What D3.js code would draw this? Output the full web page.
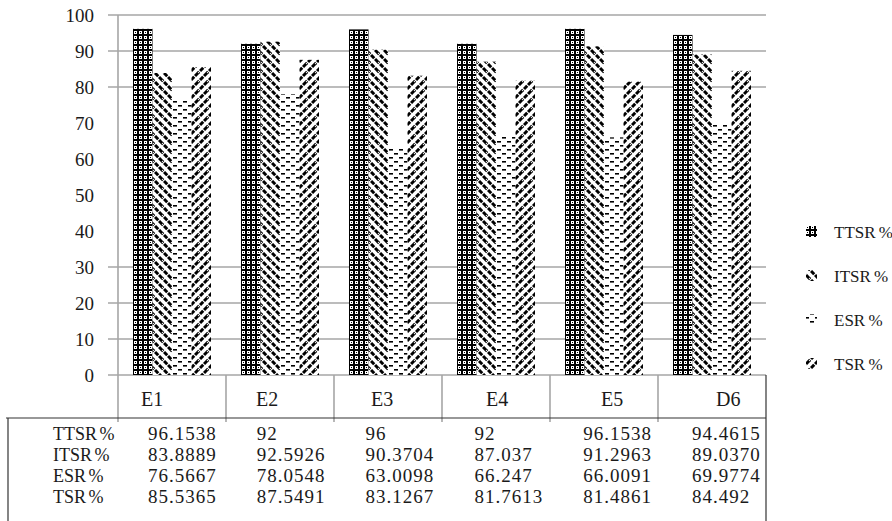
<!DOCTYPE html>
<html>
<head>
<meta charset="utf-8">
<script src="https://cdn.jsdelivr.net/npm/d3@7/dist/d3.min.js"></script>
<style>
  html, body { margin: 0; padding: 0; background: #fff; }
  svg { display: block; font-family: "Liberation Serif", "Times New Roman", serif; }
</style>
</head>
<body>
<svg id="chart" width="892" height="521"></svg>
<script>
// Test groups and the four rate series (percent)
const categories = ["E1", "E2", "E3", "E4", "E5", "D6"];
const seriesNames = ["TTSR %", "ITSR %", "ESR %", "TSR %"];
const ttsr = [96.1538, 92, 96, 92, 96.1538, 94.4615];
const itsr = [83.8889, 92.5926, 90.3704, 87.037, 91.2963, 89.0370];
const esr  = [76.5667, 78.0548, 63.0098, 66.247, 66.0091, 69.9774];
const tsr  = [85.5365, 87.5491, 83.1267, 81.7613, 81.4861, 84.492];
// Values as printed in the data table under the chart
const ttsrText = ["96.1538", "92", "96", "92", "96.1538", "94.4615"];
const itsrText = ["83.8889", "92.5926", "90.3704", "87.037", "91.2963", "89.0370"];
const esrText  = ["76.5667", "78.0548", "63.0098", "66.247", "66.0091", "69.9774"];
const tsrText  = ["85.5365", "87.5491", "83.1267", "81.7613", "81.4861", "84.492"];
const gridTicks = [0, 10, 20, 30, 80, 90, 100];
const labelTicks = [0, 10, 20, 30, 40, 50, 60, 70, 80, 90, 100];

const seriesValues = [ttsr, itsr, esr, tsr];
const seriesText = [ttsrText, itsrText, esrText, tsrText];
const patternIds = ["pat-ttsr", "pat-itsr", "pat-esr", "pat-tsr"];

const svg = d3.select("#chart");
const defs = svg.append("defs");

// TTSR: dense grid with dotted cells
const p0 = defs.append("pattern").attr("id", "pat-ttsr").attr("patternUnits", "userSpaceOnUse")
  .attr("width", 5).attr("height", 5);
p0.append("rect").attr("width", 5).attr("height", 5).attr("fill", "#000");
p0.append("rect").attr("x", 1).attr("y", 1).attr("width", 3).attr("height", 3).attr("fill", "#fff");
p0.append("rect").attr("x", 2).attr("y", 2).attr("width", 1).attr("height", 1).attr("fill", "#000");

// ITSR: wide downward diagonal
const p1 = defs.append("pattern").attr("id", "pat-itsr").attr("patternUnits", "userSpaceOnUse")
  .attr("width", 9).attr("height", 9);
p1.append("rect").attr("width", 9).attr("height", 9).attr("fill", "#fff");
p1.append("path").attr("d", "M-3,-3L12,12M-3,6L3,12M6,-3L12,3")
  .attr("stroke", "#000").attr("stroke-width", 3).attr("stroke-dasharray", "4.5,1.2");

// ESR: short horizontal dashes
const p2 = defs.append("pattern").attr("id", "pat-esr").attr("patternUnits", "userSpaceOnUse")
  .attr("width", 10).attr("height", 8);
p2.append("rect").attr("width", 10).attr("height", 8).attr("fill", "#fff");
p2.append("rect").attr("x", 0).attr("y", 1).attr("width", 4).attr("height", 1.6).attr("fill", "#000");
p2.append("rect").attr("x", 5).attr("y", 5).attr("width", 4).attr("height", 1.6).attr("fill", "#000");

// TSR: wide upward diagonal
const p3 = defs.append("pattern").attr("id", "pat-tsr").attr("patternUnits", "userSpaceOnUse")
  .attr("width", 9).attr("height", 9);
p3.append("rect").attr("width", 9).attr("height", 9).attr("fill", "#fff");
p3.append("path").attr("d", "M-3,12L12,-3M-3,3L3,-3M6,12L12,6")
  .attr("stroke", "#000").attr("stroke-width", 3).attr("stroke-dasharray", "4.5,1.2");

// Scales
const plotLeft = 118, plotRight = 766, plotTop = 15, plotBottom = 375;
const y = d3.scaleLinear().domain([0, 100]).range([plotBottom, plotTop]);
const x0 = d3.scaleBand().domain(categories).range([plotLeft, plotRight]).padding(0);
const x1 = d3.scaleBand().domain(seriesNames).range([15, x0.bandwidth() - 15]).padding(0);

const gridColor = "#a6a6a6";
const textColor = "#1a1a1a";

// Horizontal gridlines with their left tick stubs
svg.append("g").selectAll("line").data(gridTicks).join("line")
  .attr("x1", plotLeft - 10).attr("x2", plotRight)
  .attr("y1", d => y(d)).attr("y2", d => y(d))
  .attr("stroke", gridColor).attr("stroke-width", 1.6);

// Y axis labels
svg.append("g").selectAll("text").data(labelTicks).join("text")
  .attr("x", 94).attr("y", d => y(d)).attr("dy", "0.35em")
  .attr("text-anchor", "end").attr("font-size", 19).attr("fill", textColor)
  .text(d => d);

// Bars
const groups = svg.append("g").selectAll("g").data(categories).join("g")
  .attr("transform", c => `translate(${x0(c)},0)`);
groups.selectAll("rect")
  .data((c, i) => seriesNames.map((s, k) => ({ s, k, v: seriesValues[k][i] })))
  .join("rect")
  .attr("x", d => x1(d.s))
  .attr("width", x1.bandwidth())
  .attr("y", d => y(d.v))
  .attr("height", d => y(0) - y(d.v))
  .attr("fill", d => `url(#${patternIds[d.k]})`);

// Y axis line (continues down through the category row)
svg.append("line").attr("x1", plotLeft).attr("x2", plotLeft)
  .attr("y1", plotTop).attr("y2", 422)
  .attr("stroke", gridColor).attr("stroke-width", 1.6);

// Category separators
const sepXs = categories.map(c => x0(c) + x0.bandwidth()).slice(0, -1);
svg.append("g").selectAll("line").data(sepXs).join("line")
  .attr("x1", d => d).attr("x2", d => d)
  .attr("y1", plotBottom).attr("y2", 422)
  .attr("stroke", gridColor).attr("stroke-width", 1.6);

// Category labels
const catX = d3.scalePoint().domain(categories).range([141, 716]);
svg.append("g").selectAll("text").data(categories).join("text")
  .attr("x", c => catX(c)).attr("y", 406)
  .attr("font-size", 20).attr("fill", textColor)
  .text(c => c);

// Data table frame
svg.append("line").attr("x1", 6).attr("x2", plotRight).attr("y1", 418).attr("y2", 418)
  .attr("stroke", "#333").attr("stroke-width", 1.2);
svg.append("line").attr("x1", 8).attr("x2", 8).attr("y1", 418).attr("y2", 521)
  .attr("stroke", "#333").attr("stroke-width", 1.2);
svg.append("line").attr("x1", plotRight).attr("x2", plotRight).attr("y1", plotBottom).attr("y2", 521)
  .attr("stroke", "#333").attr("stroke-width", 1.2);

// Data table rows
const rowY = d3.scalePoint().domain(seriesNames).range([440, 503]);
const colX = d3.scalePoint().domain(categories).range([148, 692]);
const rows = svg.append("g").selectAll("g").data(seriesNames).join("g");
rows.append("text")
  .attr("x", 53).attr("y", s => rowY(s))
  .attr("font-size", 18).attr("fill", textColor).attr("word-spacing", "-2px")
  .text(s => s);
rows.selectAll("text.val")
  .data((s, k) => categories.map((c, i) => ({ c, t: seriesText[k][i] })))
  .join("text").attr("class", "val")
  .attr("x", d => colX(d.c)).attr("y", function () { return rowY(d3.select(this.parentNode).datum()); })
  .attr("font-size", 19).attr("letter-spacing", "1px").attr("fill", textColor)
  .text(d => d.t);

// Legend
const legY = d3.scalePoint().domain(seriesNames).range([232, 364]);
const leg = svg.append("g").selectAll("g").data(seriesNames).join("g");
leg.append("rect")
  .attr("x", 806).attr("y", s => legY(s) - 6)
  .attr("width", 11).attr("height", 11)
  .attr("fill", (s, k) => `url(#${patternIds[k]})`);
leg.append("text")
  .attr("x", 834).attr("y", s => legY(s)).attr("dy", "0.35em")
  .attr("font-size", 17).attr("fill", textColor).attr("word-spacing", "-1px")
  .text(s => s);
</script>
</body>
</html>
